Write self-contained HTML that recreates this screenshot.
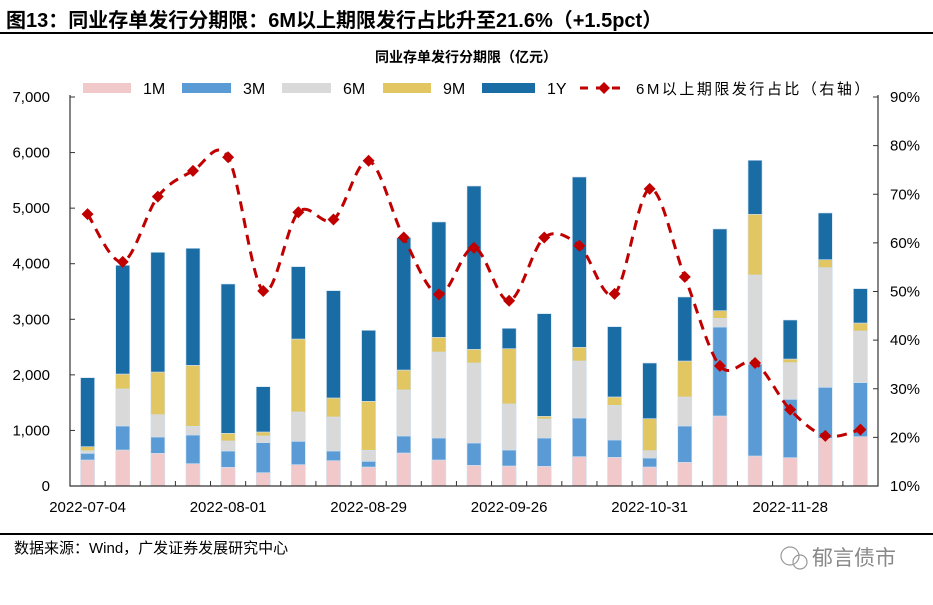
<!DOCTYPE html>
<html><head><meta charset="utf-8">
<style>
body{margin:0;background:#fff;}
svg text{font-family:"Liberation Sans","Noto Sans CJK SC",sans-serif;}
</style></head>
<body>
<svg id="chart" width="933" height="600" viewBox="0 0 933 600" xmlns="http://www.w3.org/2000/svg">
<text x="6" y="27" font-size="20" font-weight="bold" fill="#000">图13：同业存单发行分期限：6M以上期限发行占比升至21.6%（+1.5pct）</text>
<rect x="0" y="32" width="933" height="2" fill="#000"/>
<text x="466" y="62" font-size="14" font-weight="bold" text-anchor="middle" fill="#000">同业存单发行分期限（亿元）</text>
<g id="legend"></g>
<g id="plot"></g>
<rect x="0" y="533" width="933" height="2" fill="#000"/>
<text x="14" y="553" font-size="15" fill="#000">数据来源：Wind，广发证券发展研究中心</text>
<g>
<circle cx="790" cy="556" r="9" fill="none" stroke="#999" stroke-width="1.2"/>
<circle cx="800" cy="562" r="7" fill="none" stroke="#999" stroke-width="1.2"/>
<text x="812" y="565" font-size="21" fill="#888">郁言债市</text>
</g>
</svg>
<script>
const dates=["2022-07-04","","","","2022-08-01","","","","2022-08-29","","","","2022-09-26","","","","2022-10-31","","","","2022-11-28","",""];
const s1M=[468,648,588,402,336,240,384,456,342,594,468,372,360,354,528,516,342,426,1260,540,510,858,888];
const s3M=[120,432,294,516,294,540,420,174,102,306,396,402,288,510,696,312,162,654,1601,1655,1050,918,972];
const s6M=[48,666,402,156,180,120,528,612,198,828,1547,1439,828,342,1025,624,132,522,156,1602,659,2153,929];
const s9M=[72,269,767,1097,138,72,1313,342,882,359,264,246,995,48,246,150,576,647,138,1092,66,144,144];
const s1Y=[1241,1956,2154,2106,2687,815,1302,1931,1277,2382,2076,2939,366,1847,3065,1265,1001,1152,1470,972,702,840,618];
const ratio=[65.9,56.1,69.5,74.8,77.6,50.1,66.3,64.8,76.9,61.1,49.4,59.0,48.1,61.1,59.4,49.5,71.1,53.0,34.7,35.3,25.7,20.3,21.6];
const leftTicks=[0,1000,2000,3000,4000,5000,6000,7000];
const rightTicks=[10,20,30,40,50,60,70,80,90];

const NS="http://www.w3.org/2000/svg";
const X0=70,X1=878,Y0=486,Y1=97;
const n=dates.length,cw=(X1-X0)/n;
const xc=i=>X0+cw*(i+0.5);
const yL=v=>Y0-(v/7000)*(Y0-Y1);
const yR=p=>Y0-((p-10)/80)*(Y0-Y1);
function mk(tag,attrs,parent){const e=document.createElementNS(NS,tag);for(const k in attrs)e.setAttribute(k,attrs[k]);parent.appendChild(e);return e;}
const plot=document.getElementById('plot');
const series=[{n:"1M",d:s1M,c:"#f2c9cb"},{n:"3M",d:s3M,c:"#5b9bd5"},{n:"6M",d:s6M,c:"#d9d9d9"},{n:"9M",d:s9M,c:"#e2c662"},{n:"1Y",d:s1Y,c:"#1a6ca5"}];
for(let i=0;i<n;i++){let cum=0;
 series.forEach(s=>{const v=s.d[i];const r=mk('rect',{x:xc(i)-7,y:yL(cum+v),width:14,height:yL(cum)-yL(cum+v),fill:s.c,stroke:"#cfe0f0","stroke-width":0.6},plot);
 
 
 cum+=v;});}
const ax=mk('path',{d:`M${X0},${Y1-2} L${X0},${Y0} L${X1},${Y0} L${X1},${Y1-2}`,fill:"none",stroke:"#333","stroke-width":1.2},plot);


leftTicks.forEach(v=>{mk('line',{x1:X0,x2:X0+5,y1:yL(v),y2:yL(v),stroke:"#333"},plot);
 const t=mk('text',{x:X0-20,y:yL(v)+5,"font-size":15,"text-anchor":"end",fill:"#000"},plot);t.textContent=v.toLocaleString('en-US');
 
 });
rightTicks.forEach(p=>{mk('line',{x1:X1-5,x2:X1,y1:yR(p),y2:yR(p),stroke:"#333"},plot);
 const t=mk('text',{x:X1+12,y:yR(p)+5,"font-size":15,fill:"#000"},plot);t.textContent=p+"%";
 
 });
for(let i=1;i<n;i++)mk('line',{x1:X0+cw*i,x2:X0+cw*i,y1:Y0,y2:Y0-5,stroke:"#333"},plot);
dates.forEach((d,i)=>{if(!d)return;const t=mk('text',{x:xc(i),y:512,"font-size":15,"text-anchor":"middle",fill:"#000"},plot);t.textContent=d;
 
 });
const pts=ratio.map((p,i)=>[xc(i),yR(p)]);
let d=`M${pts[0][0]},${pts[0][1]}`;
for(let i=0;i<pts.length-1;i++){const p0=pts[Math.max(0,i-1)],p1=pts[i],p2=pts[i+1],p3=pts[Math.min(pts.length-1,i+2)];
 const c1=[p1[0]+(p2[0]-p0[0])/6,p1[1]+(p2[1]-p0[1])/6],c2=[p2[0]-(p3[0]-p1[0])/6,p2[1]-(p3[1]-p1[1])/6];
 d+=` C${c1[0]},${c1[1]} ${c2[0]},${c2[1]} ${p2[0]},${p2[1]}`;}
const ln=mk('path',{d:d,fill:"none",stroke:"#c00000","stroke-width":3,"stroke-dasharray":"10,7"},plot);


pts.forEach(p=>{const m=mk('path',{d:`M${p[0]},${p[1]-6} L${p[0]+6},${p[1]} L${p[0]},${p[1]+6} L${p[0]-6},${p[1]} Z`,fill:"#c00000"},plot);
 
 });
const lg=document.getElementById('legend');
const lx=[[83,143],[182,243],[282,343],[383,443],[482,547]];
series.forEach((s,k)=>{const r=mk('rect',{x:lx[k][0],y:83,width:lx[k][1]-lx[k][0]-12,height:10,fill:s.c},lg);
 
 
 const t=mk('text',{x:lx[k][1],y:94,"font-size":16,fill:"#000"},lg);t.textContent=s.n;
 
 });
mk('line',{x1:580,x2:628,y1:88,y2:88,stroke:"#c00000","stroke-width":3,"stroke-dasharray":"8,8"},lg);
mk('path',{d:"M604,82 L610,88 L604,94 L598,88 Z",fill:"#c00000"},lg);
const lt=mk('text',{x:636,y:94,"font-size":15,"letter-spacing":"2.5",fill:"#000"},lg);lt.textContent="6M以上期限发行占比（右轴）";


</script>
</body></html>
